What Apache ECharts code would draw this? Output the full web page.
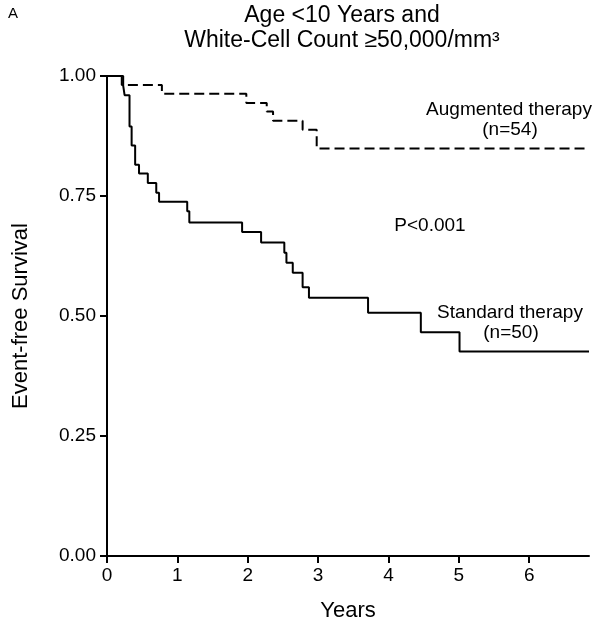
<!DOCTYPE html>
<html>
<head>
<meta charset="utf-8">
<script src="https://cdn.jsdelivr.net/npm/echarts@6/dist/echarts.min.js"></script>
<style>
  html, body { margin: 0; padding: 0; background: #fff; }
  #main { width: 600px; height: 630px; }
</style>
</head>
<body>
<div id="main"></div>
<script>
// Kaplan-Meier steps: [years, survival]
const standardSteps = [
  [0, 1.0], [0.23, 0.98], [0.25, 0.96], [0.32, 0.895], [0.35, 0.855],
  [0.40, 0.815], [0.455, 0.797], [0.58, 0.777], [0.70, 0.757], [0.74, 0.738],
  [1.14, 0.718], [1.17, 0.695], [1.92, 0.675], [2.19, 0.653], [2.52, 0.632],
  [2.55, 0.611], [2.64, 0.59], [2.78, 0.56], [2.87, 0.538], [3.71, 0.507],
  [4.46, 0.466], [5.01, 0.426], [6.85, 0.426]
]
const augmentedSteps = [
  [0, 1.0], [0.21, 0.981], [0.78, 0.963], [1.98, 0.944], [2.27, 0.926],
  [2.36, 0.907], [2.78, 0.888], [2.98, 0.849], [6.82, 0.849]
]
const xTicks = [0, 1, 2, 3, 4, 5, 6]

const font = 'Liberation Sans, Arial, sans-serif'

const option = {
  animation: false,
  backgroundColor: '#fff',
  grid: { left: 107, top: 76, width: 482, height: 480 },
  graphic: [
    { type: 'text', left: 8, top: 6, style: { text: 'A', font: '15px ' + font, fill: '#000' } },
    { type: 'text', x: 342, y: 16, style: { text: 'Age <10 Years and', font: '23px ' + font, fill: '#000', align: 'center', verticalAlign: 'middle' } },
    { type: 'text', x: 342, y: 41, style: { text: 'White-Cell Count ≥50,000/mm³', font: '23px ' + font, fill: '#000', align: 'center', verticalAlign: 'middle' } },
    { type: 'text', x: 509, y: 110, style: { text: 'Augmented therapy', font: '19px ' + font, fill: '#000', align: 'center', verticalAlign: 'middle' } },
    { type: 'text', x: 510, y: 130, style: { text: '(n=54)', font: '19px ' + font, fill: '#000', align: 'center', verticalAlign: 'middle' } },
    { type: 'text', x: 430, y: 226, style: { text: 'P<0.001', font: '19px ' + font, fill: '#000', align: 'center', verticalAlign: 'middle' } },
    { type: 'text', x: 510, y: 313, style: { text: 'Standard therapy', font: '19px ' + font, fill: '#000', align: 'center', verticalAlign: 'middle' } },
    { type: 'text', x: 511, y: 333, style: { text: '(n=50)', font: '19px ' + font, fill: '#000', align: 'center', verticalAlign: 'middle' } }
  ],
  xAxis: {
    type: 'value',
    min: 0,
    max: 6.85,
    interval: 1,
    name: 'Years',
    nameLocation: 'middle',
    nameGap: 44,
    nameTextStyle: { fontSize: 22, color: '#000', fontFamily: font },
    axisLine: { show: true, lineStyle: { color: '#000', width: 2 } },
    axisTick: { show: true, length: 7, lineStyle: { color: '#000', width: 2 }, customValues: xTicks },
    axisLabel: { fontSize: 19, color: '#000', fontFamily: font, margin: 10, customValues: xTicks },
    splitLine: { show: false }
  },
  yAxis: {
    type: 'value',
    min: 0,
    max: 1,
    interval: 0.25,
    name: 'Event-free Survival',
    nameLocation: 'middle',
    nameGap: 75,
    nameTextStyle: { fontSize: 22, color: '#000', fontFamily: font },
    axisLine: { show: true, lineStyle: { color: '#000', width: 2 } },
    axisTick: { show: true, length: 7, lineStyle: { color: '#000', width: 2 } },
    axisLabel: { fontSize: 19, color: '#000', fontFamily: font, margin: 11, formatter: v => v.toFixed(2) },
    splitLine: { show: false }
  },
  series: [
    {
      name: 'Standard therapy',
      type: 'line',
      step: 'end',
      data: standardSteps,
      showSymbol: false,
      lineStyle: { color: '#000', width: 2 }
    },
    {
      name: 'Augmented therapy',
      type: 'line',
      step: 'end',
      data: augmentedSteps,
      showSymbol: false,
      lineStyle: { color: '#000', width: 2, type: [10, 5] }
    }
  ]
}

echarts.init(document.getElementById('main')).setOption(option)
</script>
</body>
</html>
